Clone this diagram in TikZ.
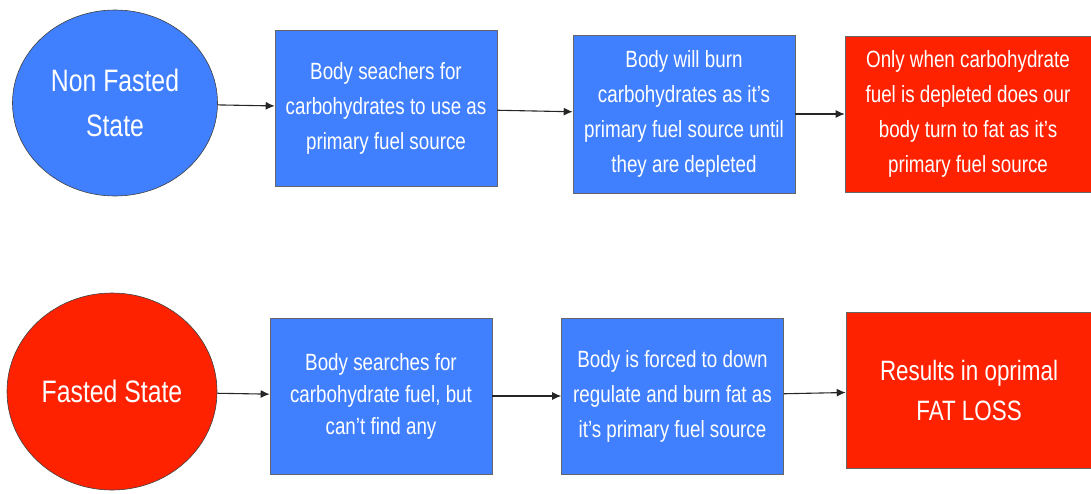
\documentclass[tikz,border=0pt]{standalone}
\usepackage{fontspec}
\setmainfont{Liberation Sans}[FakeStretch=0.8]
\usetikzlibrary{shapes.geometric}
\usetikzlibrary{arrows.meta}
\definecolor{stateblue}{RGB}{64,128,255}
\definecolor{statered}{RGB}{255,34,0}

\begin{document}
\begin{tikzpicture}[x=1pt,y=1pt]
  \tikzset{
    state/.style={draw=black!75, ellipse, line width=0.6pt, text=white, align=center, inner sep=0pt, font=\fontsize{31}{45}\selectfont},
    box/.style={draw=black!60, rectangle, line width=0.6pt, fill=stateblue, text=white, align=center, inner sep=0pt, minimum width=222pt, minimum height=156pt, font=\fontsize{23.5}{35}\selectfont},
    result/.style={box, fill=statered, minimum width=246pt},
    line/.style={draw, black!85, line width=1.1pt, -{Latex[length=9pt,width=8pt]}}
  }
  \useasboundingbox (0,0) rectangle (1091,-493);
  \node [state, fill=stateblue, minimum width=205pt, minimum height=186pt] (nonfast) at (115,-103) {Non Fasted\\State};
  \node [box, right of=nonfast, node distance=271pt, yshift=-5pt] (search1) {Body seachers for\\carbohydrates to use as\\primary fuel source};
  \node [box, right of=search1, node distance=298pt, yshift=-6pt, minimum height=158pt] (burn) {Body will burn\\carbohydrates as it's\\primary fuel source until\\they are depleted};
  \node [result, right of=burn, node distance=284pt] (fatfuel) {Only when carbohydrate\\fuel is depleted does our\\body turn to fat as it's\\primary fuel source};
  \node [state, fill=statered, below of=nonfast, node distance=288.5pt, xshift=-3pt, minimum width=210pt, minimum height=197pt] (fasted) {Fasted State};
  \node [box, right of=fasted, node distance=269pt, yshift=-4.5pt, font=\fontsize{23.5}{32}\selectfont] (search2) {Body searches for\\carbohydrate fuel, but\\can't find any};
  \node [box, right of=search2, node distance=291.5pt] (regulate) {Body is forced to down\\regulate and burn fat as\\it's primary fuel source};
  \node [result, right of=regulate, node distance=296.5pt, yshift=6pt, font=\fontsize{28}{40}\selectfont] (fatloss) {Results in oprimal\\FAT LOSS};

  \path [line] (nonfast)--(search1);
  \path [line] (search1)--(burn);
  \path [line] (burn)--(fatfuel);
  \path [line] (fasted)--(search2);
  \path [line] (search2)--(regulate);
  \path [line] (regulate)--(fatloss);
\end{tikzpicture}
\end{document}
